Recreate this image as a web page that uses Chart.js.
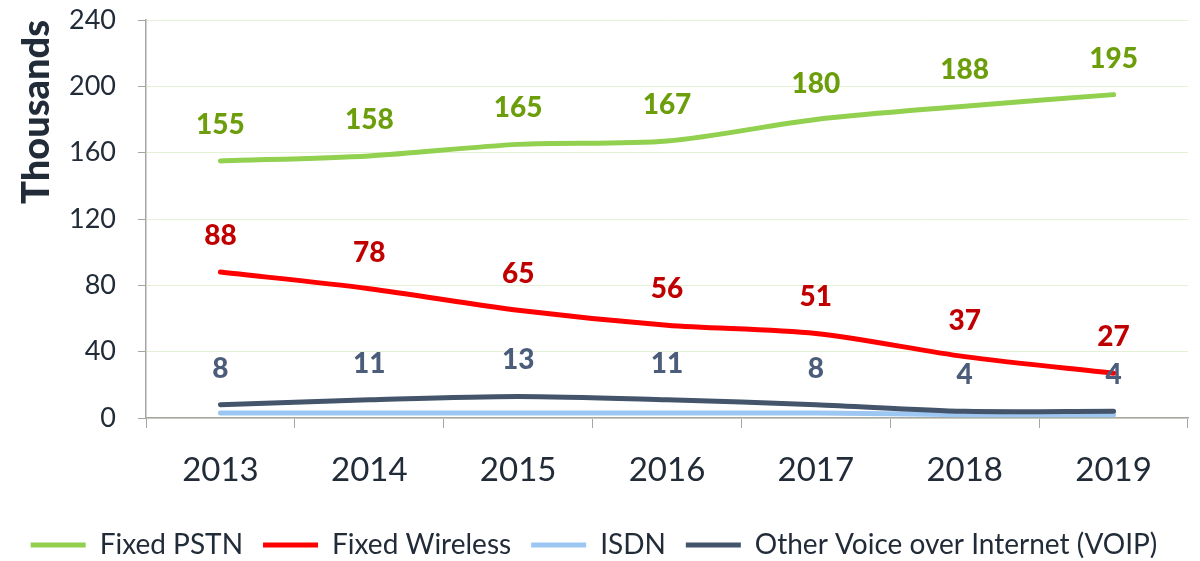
<!DOCTYPE html>
<html>
<head>
<meta charset="utf-8">
<script src="https://cdn.jsdelivr.net/npm/chart.js@4/dist/chart.umd.min.js"></script>
<style>
  html, body { margin: 0; padding: 0; background: #ffffff; }
  #wrap { width: 1200px; height: 561px; position: relative; }
</style>
</head>
<body>
<div id="wrap"><canvas id="chart"></canvas></div>
<script>
// Chart data
const years = ['2013', '2014', '2015', '2016', '2017', '2018', '2019'];
const fixedPstn = [155, 158, 165, 167, 180, 188, 195];
const fixedWireless = [88, 78, 65, 56, 51, 37, 27];
const isdn = [3, 3, 3, 3, 3, 2, 2];
const voip = [8, 11, 13, 11, 8, 4, 4];
const yTicks = [0, 40, 80, 120, 160, 200, 240];

const textColor = '#222b38';
const axisColor = '#a6a6a6';

// Simple data label plugin (draws value above each point)
const pointLabels = {
  id: 'pointLabels',
  afterDatasetsDraw(chart) {
    const ctx = chart.ctx;
    ctx.save();
    ctx.font = '900 28px Lato';
    ctx.textAlign = 'center';
    ctx.textBaseline = 'middle';
    chart.data.datasets.forEach((ds, i) => {
      if (!ds.labelColor) return;
      const meta = chart.getDatasetMeta(i);
      ctx.fillStyle = ds.labelColor;
      meta.data.forEach((pt, j) => {
        ctx.fillText(ds.data[j], pt.x, pt.y - 36);
      });
    });
    ctx.restore();
  }
};

new Chart(document.getElementById('chart'), {
  type: 'line',
  data: {
    labels: years,
    datasets: [
      { label: 'Fixed PSTN', data: fixedPstn, borderColor: '#92d050', backgroundColor: '#92d050', labelColor: '#6b9e0a', order: 0 },
      { label: 'Fixed Wireless', data: fixedWireless, borderColor: '#ff0000', backgroundColor: '#ff0000', labelColor: '#c00000', order: 0 },
      { label: 'ISDN', data: isdn, borderColor: '#9cc7f2', backgroundColor: '#9cc7f2', order: 1 },
      { label: 'Other Voice over Internet (VOIP)', data: voip, borderColor: '#44546a', backgroundColor: '#44546a', labelColor: '#4b5d7b', order: 0 }
    ]
  },
  options: {
    responsive: true,
    maintainAspectRatio: false,
    animation: false,
    layout: { padding: { top: 20, right: 12, left: 0, bottom: -8 } },
    elements: {
      line: { borderWidth: 5, tension: 0.3, borderCapStyle: 'round' },
      point: { radius: 0, hoverRadius: 0 }
    },
    scales: {
      x: {
        offset: true,
        grid: { drawOnChartArea: false, drawTicks: true, tickLength: 10, tickColor: axisColor, offset: true },
        border: { color: axisColor, width: 1.5 },
        ticks: { color: textColor, font: { family: 'Lato', size: 33 }, padding: 23 },
        afterFit(scale) { scale.height = 93; scale.paddingLeft = 0; scale.paddingRight = 0; }
      },
      y: {
        min: 0,
        max: 240,
        afterBuildTicks(scale) { scale.ticks = yTicks.map(v => ({ value: v })); },
        grid: { color: '#e4f1d4', tickColor: axisColor, tickLength: 8 },
        border: { color: axisColor, width: 1.5 },
        ticks: { color: textColor, font: { family: 'Lato', size: 27 }, padding: 22 },
        title: {
          display: true,
          text: 'Thousands',
          align: 'end',
          color: textColor,
          font: { family: 'Lato', size: 38, weight: '900' },
          padding: { top: 14, bottom: 0 }
        },
        afterFit(scale) { scale.width = 146; scale.paddingTop = 0; scale.paddingBottom = 0; }
      }
    },
    plugins: {
      tooltip: { enabled: false },
      legend: {
        position: 'bottom',
        labels: {
          color: textColor,
          font: { family: 'Lato', size: 28 },
          boxWidth: 55,
          boxHeight: 5,
          padding: 20,
          generateLabels(chart) {
            return chart.data.datasets.map((ds, i) => ({
              text: ds.label,
              fillStyle: ds.borderColor,
              strokeStyle: ds.borderColor,
              lineWidth: 0,
              fontColor: textColor,
              datasetIndex: i
            }));
          }
        }
      }
    }
  },
  plugins: [pointLabels]
});
</script>
</body>
</html>
